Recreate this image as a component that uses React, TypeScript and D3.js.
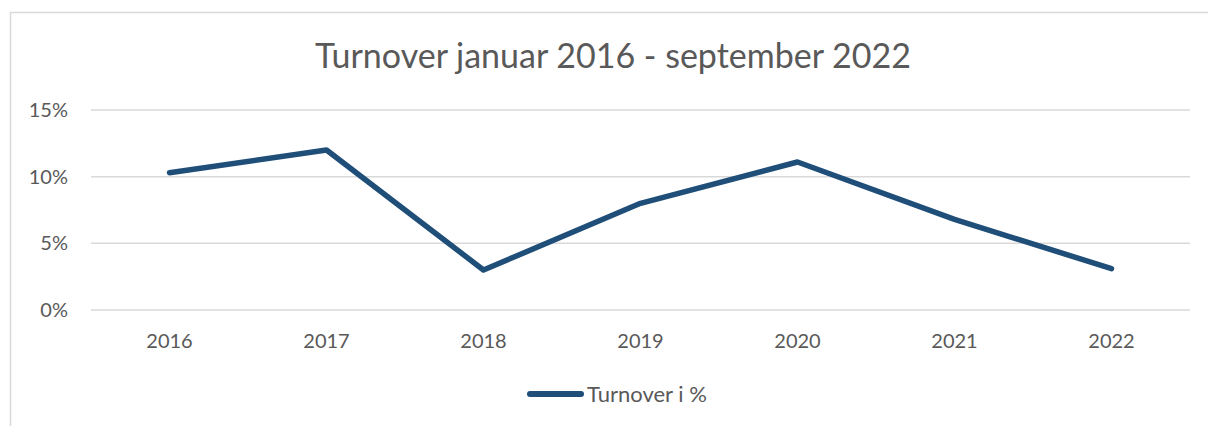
import React, { useEffect, useRef } from "react";
import * as d3 from "d3";

const years = ["2016", "2017", "2018", "2019", "2020", "2021", "2022"];
const turnover = [10.3, 12.0, 3.0, 8.0, 11.1, 6.8, 3.1];
const yTicks = [0, 5, 10, 15];
const title = "Turnover januar 2016 - september 2022";
const seriesName = "Turnover i %";

const W = 1208;
const H = 426;
const FONT = "Lato, 'Open Sans', sans-serif";
const TEXT = "#595959";
const GRID = "#D9D9D9";
const LINE = "#1F4E79";

export default function App() {
  const ref = useRef<SVGSVGElement>(null);

  useEffect(() => {
    const svg = d3.select(ref.current);
    svg.selectAll("*").remove();

    svg.append("rect").attr("width", W).attr("height", H).attr("fill", "#fff");
    svg
      .append("rect")
      .attr("x", 10.5)
      .attr("y", 12.5)
      .attr("width", W + 20)
      .attr("height", H + 20)
      .attr("fill", "none")
      .attr("stroke", GRID)
      .attr("stroke-width", 1.5);

    const x = d3.scaleBand<string>().domain(years).range([91, 1190]);
    const y = d3.scaleLinear().domain([0, 15]).range([310, 110]);

    const g = svg.append("g");
    g.selectAll("line.grid")
      .data(yTicks)
      .join("line")
      .attr("class", "grid")
      .attr("x1", 91)
      .attr("x2", 1190)
      .attr("y1", (d) => y(d))
      .attr("y2", (d) => y(d))
      .attr("stroke", GRID)
      .attr("stroke-width", 1.5);

    g.selectAll("text.ytick")
      .data(yTicks)
      .join("text")
      .attr("class", "ytick")
      .attr("x", 68)
      .attr("y", (d) => y(d))
      .attr("dy", "0.35em")
      .attr("text-anchor", "end")
      .attr("font-family", FONT)
      .attr("font-size", 20)
      .attr("fill", TEXT)
      .text((d) => `${d}%`);

    g.selectAll("text.xtick")
      .data(years)
      .join("text")
      .attr("class", "xtick")
      .attr("x", (d) => (x(d) as number) + x.bandwidth() / 2)
      .attr("y", 341)
      .attr("dy", "0.35em")
      .attr("text-anchor", "middle")
      .attr("font-family", FONT)
      .attr("font-size", 20)
      .attr("fill", TEXT)
      .text((d) => d);

    const line = d3
      .line<number>()
      .x((_, i) => (x(years[i]) as number) + x.bandwidth() / 2)
      .y((d) => y(d));

    g.append("path")
      .datum(turnover)
      .attr("d", line)
      .attr("fill", "none")
      .attr("stroke", LINE)
      .attr("stroke-width", 5.5)
      .attr("stroke-linecap", "round")
      .attr("stroke-linejoin", "round");

    svg
      .append("text")
      .attr("x", 613)
      .attr("y", 68)
      .attr("text-anchor", "middle")
      .attr("font-family", FONT)
      .attr("font-size", 34)
      .attr("fill", TEXT)
      .text(title);

    svg
      .append("line")
      .attr("x1", 530)
      .attr("x2", 581)
      .attr("y1", 394)
      .attr("y2", 394)
      .attr("stroke", LINE)
      .attr("stroke-width", 6)
      .attr("stroke-linecap", "round");

    svg
      .append("text")
      .attr("x", 587)
      .attr("y", 394)
      .attr("dy", "0.35em")
      .attr("font-family", FONT)
      .attr("font-size", 22)
      .attr("fill", TEXT)
      .text(seriesName);
  }, []);

  return (
    <svg
      ref={ref}
      width={W}
      height={H}
      style={{ position: "absolute", left: 0, top: 0, display: "block" }}
    />
  );
}
